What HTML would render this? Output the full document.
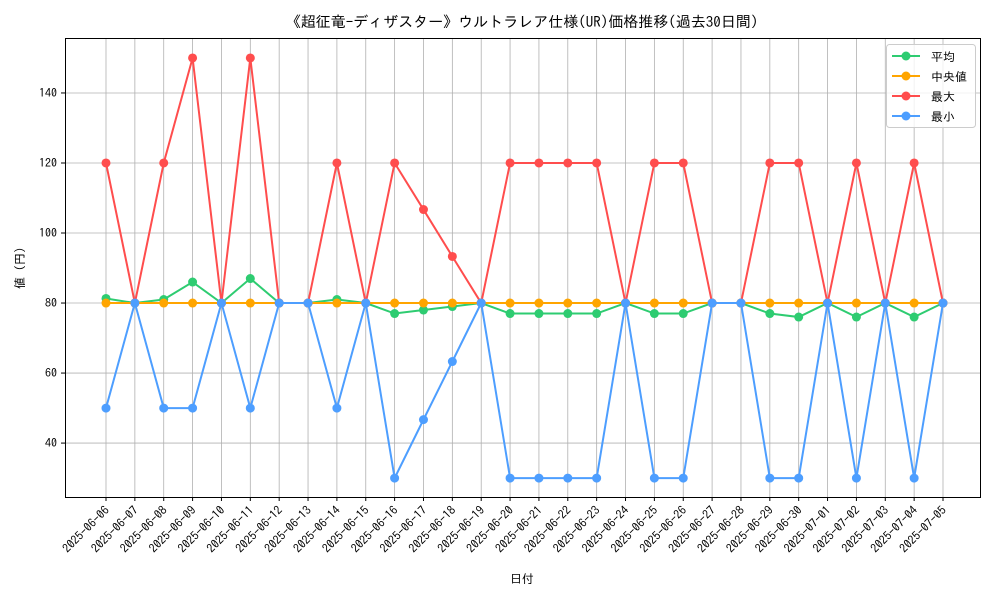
<!DOCTYPE html>
<html><head><meta charset="utf-8">
<style>
body{margin:0;background:#fff;}
svg text{font-family:"IPAGothic","Noto Sans CJK JP",sans-serif;fill:#000;}
</style></head>
<body>
<svg id="chart" width="1000" height="600" xmlns="http://www.w3.org/2000/svg">
<rect x="0" y="0" width="1000" height="600" fill="#fff"/>
<text x="522" y="27" font-size="15" text-anchor="middle">《超征竜-ディザスター》ウルトラレア仕様(UR)価格推移(過去30日間)</text>
<g id="grid"></g>
<g id="series"></g>
<rect x="65.5" y="38.5" width="915" height="459" fill="none" stroke="#000" stroke-width="1"/>
<g id="axes"></g>
<text x="522" y="583" font-size="12" text-anchor="middle">日付</text>
<text transform="translate(24,268) rotate(-90)" font-size="12" text-anchor="middle">値 (円)</text>
<g id="legend"></g>
</svg>
<script>
const dates = ["2025-06-06","2025-06-07","2025-06-08","2025-06-09","2025-06-10","2025-06-11","2025-06-12","2025-06-13","2025-06-14","2025-06-15","2025-06-16","2025-06-17","2025-06-18","2025-06-19","2025-06-20","2025-06-21","2025-06-22","2025-06-23","2025-06-24","2025-06-25","2025-06-26","2025-06-27","2025-06-28","2025-06-29","2025-06-30","2025-07-01","2025-07-02","2025-07-03","2025-07-04","2025-07-05"];
const avgValues = [81.3,80,81,86,80,87,80,80,81,80,77,78,79,80,77,77,77,77,80,77,77,80,80,77,76,80,76,80,76,80];
const medianValues = [80,80,80,80,80,80,80,80,80,80,80,80,80,80,80,80,80,80,80,80,80,80,80,80,80,80,80,80,80,80];
const maxValues = [120,80,120,150,80,150,80,80,120,80,120,106.7,93.3,80,120,120,120,120,80,120,120,80,80,120,120,80,120,80,120,80];
const minValues = [50,80,50,50,80,50,80,80,50,80,30,46.7,63.3,80,30,30,30,30,80,30,30,80,80,30,30,80,30,80,30,80];
const yTicks = [40,60,80,100,120,140];

const NS="http://www.w3.org/2000/svg";
const X0=106, X1=943, YMIN=24.6, YMAX=155.7, PT=38, PB=497;
function xs(i){return X0+(X1-X0)*i/(dates.length-1);}
function ys(v){return PB-(v-YMIN)/(YMAX-YMIN)*(PB-PT);}
function mk(tag,attrs,parent){const e=document.createElementNS(NS,tag);for(const k in attrs)e.setAttribute(k,attrs[k]);parent.appendChild(e);return e;}
const grid=document.getElementById('grid'), axes=document.getElementById('axes'), ser=document.getElementById('series'), leg=document.getElementById('legend');

dates.forEach((d,i)=>{
  const x=xs(i);
  const g=mk('line',{x1:x,x2:x,y1:PT,y2:PB,stroke:'#b0b0b0','stroke-width':0.8},grid);
  
  
  const t=mk('line',{x1:x,x2:x,y1:PB,y2:PB+4,stroke:'#000'},axes);
  
  
  const lb=mk('text',{'font-size':12,'text-anchor':'end',transform:`translate(${x+4},${PB+14}) rotate(-45)`},axes);
  lb.textContent=d;
  
  
});
yTicks.forEach(v=>{
  const y=ys(v);
  const g=mk('line',{x1:65,x2:980,y1:y,y2:y,stroke:'#b0b0b0','stroke-width':0.8},grid);
  
  
  const t=mk('line',{x1:61,x2:65,y1:y,y2:y,stroke:'#000'},axes);
  
  
  const lb=mk('text',{x:57,y:y+4,'font-size':12,'text-anchor':'end'},axes);
  lb.textContent=v;
  
  
});

const seriesList=[
  {name:'平均',key:'avg',vals:avgValues,color:'#2ecc71'},
  {name:'中央値',key:'median',vals:medianValues,color:'#ffa500'},
  {name:'最大',key:'max',vals:maxValues,color:'#ff4d4d'},
  {name:'最小',key:'min',vals:minValues,color:'#4d9eff'}
];
seriesList.forEach((s,si)=>{
  const g=mk('g',{},ser);
  
  
  const pl=mk('polyline',{points:s.vals.map((v,i)=>xs(i)+','+ys(v)).join(' '),fill:'none',stroke:s.color,'stroke-width':2},g);
  
  
  s.vals.forEach((v,i)=>{
    const c=mk('circle',{cx:xs(i),cy:ys(v),r:4.5,fill:s.color},g);
    
    
  });
  const ly=56+si*20;
  const le=mk('g',{},leg);
  
  
  mk('line',{x1:892,x2:920,y1:ly,y2:ly,stroke:s.color,'stroke-width':2},le);
  mk('circle',{cx:906,cy:ly,r:4.5,fill:s.color},le);
  const t=mk('text',{x:931,y:ly+5,'font-size':12},le);
  t.textContent=s.name;
});
const box=mk('rect',{x:886.5,y:44.5,width:89,height:83,rx:3,fill:'#fff','fill-opacity':0.8,stroke:'#ccc'},leg);
leg.insertBefore(box,leg.firstChild);


</script>
</body></html>
